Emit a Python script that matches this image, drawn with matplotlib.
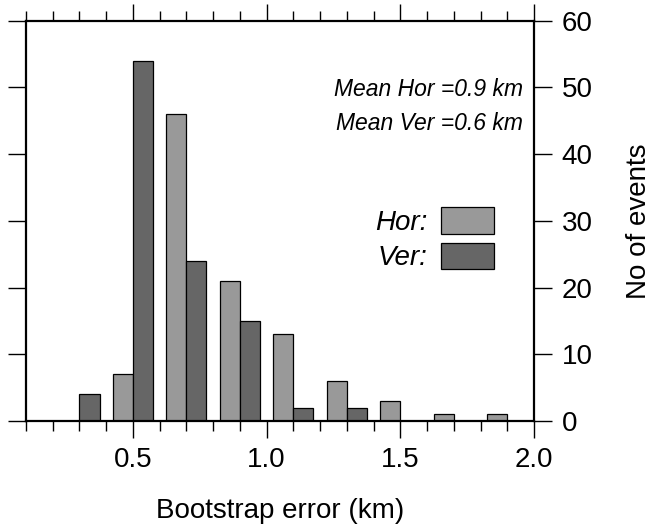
import numpy as np
import matplotlib.pyplot as plt
from matplotlib.ticker import MultipleLocator

plt.rcParams['font.family'] = ['Liberation Sans', 'DejaVu Sans']

# histogram bins (km) and counts
bin_centers = [0.3, 0.5, 0.7, 0.9, 1.1, 1.3, 1.5, 1.7, 1.9]
hor_counts = [0, 7, 46, 21, 13, 6, 3, 1, 1]
ver_counts = [4, 54, 24, 15, 2, 2, 0, 0, 0]
mean_hor = 0.9
mean_ver = 0.6

bw = 0.075
centers = np.array(bin_centers)

fig = plt.figure(figsize=(6.6, 5.29), dpi=100)
ax = fig.add_axes([0.0394, 0.204, 0.7697, 0.757])

ax.bar(centers - bw, hor_counts, width=bw, align='edge', color='#999999',
       edgecolor='black', linewidth=0.9, label='Hor:')
ax.bar(centers, ver_counts, width=bw, align='edge', color='#666666',
       edgecolor='black', linewidth=0.9, label='Ver:')

ax.set_xlim(0.1, 2.0)
ax.set_ylim(0, 60)

ax.xaxis.set_major_locator(MultipleLocator(0.5))
ax.xaxis.set_minor_locator(MultipleLocator(0.1))
ax.yaxis.set_major_locator(MultipleLocator(10))
ax.set_xticks([0.5, 1.0, 1.5, 2.0])
ax.set_xticklabels(['0.5', '1.0', '1.5', '2.0'])

ax.tick_params(axis='x', which='both', direction='out', top=True, bottom=True,
               labelsize=20, pad=6.5)
ax.tick_params(axis='x', which='major', length=12, width=1.0)
ax.tick_params(axis='x', which='minor', length=7, width=1.0)
ax.tick_params(axis='y', which='major', direction='out', left=True, right=True,
               labelleft=False, labelright=True, length=13, width=1.0,
               labelsize=20, pad=7)

for s in ax.spines.values():
    s.set_linewidth(1.6)

ax.set_xlabel('Bootstrap error (km)', fontsize=20, labelpad=18)
ax.yaxis.set_label_position('right')
ax.set_ylabel('No of events', fontsize=20, labelpad=24)

ax.text(0.978, 0.827, 'Mean Hor =%.1f km' % mean_hor, transform=ax.transAxes,
        ha='right', va='center', fontsize=16.5, style='italic')
ax.text(0.978, 0.742, 'Mean Ver =%.1f km' % mean_ver, transform=ax.transAxes,
        ha='right', va='center', fontsize=16.5, style='italic')

ax.legend(loc='upper right', bbox_to_anchor=(0.921, 0.535), frameon=False,
          markerfirst=False, prop={'size': 20, 'style': 'italic'},
          handlelength=1.9, handleheight=1.1, labelspacing=0.25,
          handletextpad=0.5, borderpad=0, borderaxespad=0)

fig.savefig('out.png', dpi=100)
